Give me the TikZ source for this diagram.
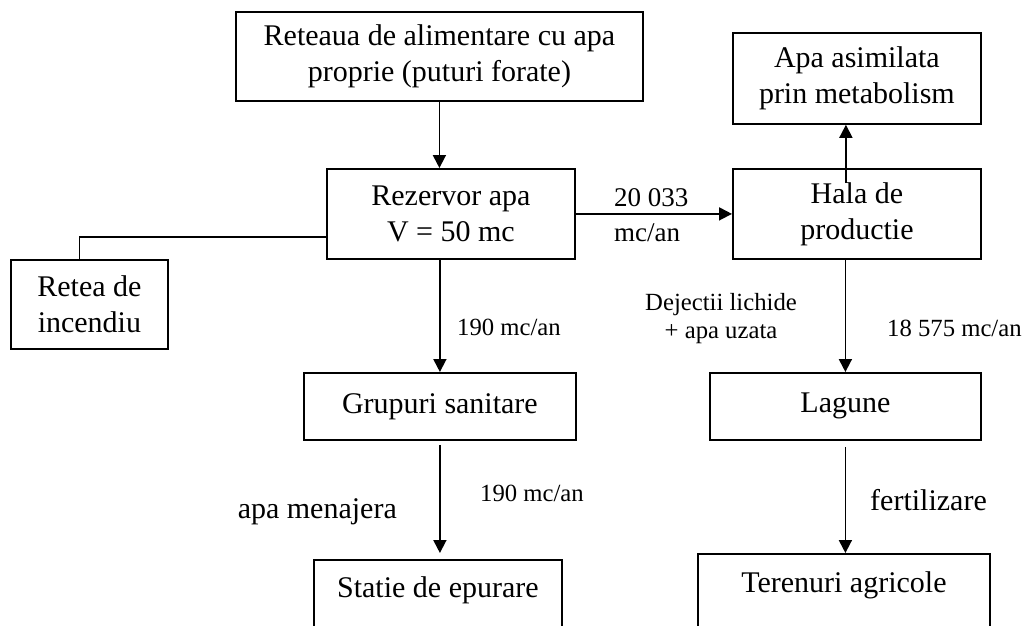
\documentclass[tikz,border=0pt]{standalone}
\usepackage{fontspec}
\setmainfont{Liberation Serif}
\usetikzlibrary{arrows.meta,calc}
\begin{document}
\begin{tikzpicture}[x=1pt,y=-1pt,
  box/.style={draw, line width=1.8pt, inner sep=0pt, align=center, anchor=north west, font=\fontsize{30}{36}\selectfont},
  conn/.style={line width=1.8pt},
  arr/.style={conn, -{Triangle[length=13pt,width=13pt]}},
  lblbig/.style={font=\fontsize{30}{36}\selectfont, inner sep=0pt},
  lblmid/.style={font=\fontsize{27}{35}\selectfont, inner sep=0pt, align=left},
  lblsmall/.style={font=\fontsize{24.7}{28}\selectfont, inner sep=0pt, align=center}]
\useasboundingbox (0,0) rectangle (1024,625);
\clip (0,0) rectangle (1024,625);
\node[box, minimum width=407pt, minimum height=89pt] (src) at (235,11) {Reteaua de alimentare cu apa\\proprie (puturi forate)};
\node[box, minimum width=248pt, minimum height=91pt] (asim) at (732,32) {Apa asimilata\\prin metabolism};
\node[box, minimum width=248pt, minimum height=90pt] (rez) at (326,168) {Rezervor apa\\V = 50 mc};
\node[box, minimum width=248pt, minimum height=90pt] (hala) at (732,168) {Hala de\\productie};
\node[box, minimum width=157pt, minimum height=89pt] (retea) at (10,259) {Retea de\\incendiu};
\node[box, minimum width=272pt, minimum height=67pt] (grup) at (303,372) {Grupuri sanitare};
\node[box, minimum width=271pt, minimum height=67pt] (lag) at (709,372) {Lagune};
\node[box, minimum width=248pt, text height=38pt, text depth=60pt] (statie) at (313,559) {Statie de epurare};
\node[box, minimum width=292pt, text height=39pt, text depth=60pt] (teren) at (697,553) {Terenuri agricole};
% connectors
\draw[arr] (src.south) -- (src.south |- rez.north);
\coordinate (r1) at ($(rez.south west)+(0,-23)$);
\coordinate (r2) at ($(retea.north)+(-10,0)$);
\draw[conn] (r1) -| (r2);
\draw[arr] (rez.east) -- (hala.west);
\coordinate (h1) at ($(hala.north)+(-11,15)$);
\draw[arr] (h1) -- (h1 |- asim.south);
\draw[arr] (grup.north |- rez.south) -- (grup.north);
\draw[arr] (lag.north |- hala.south) -- (lag.north);
\coordinate (l1) at ($(lag.south)+(0,6)$);
\draw[arr] (l1) -- (l1 |- teren.north);
\coordinate (g1) at ($(grup.south)+(0,4)$);
\coordinate (g2) at ($(g1 |- statie.north)+(0,-6)$);
\draw[arr] (g1) -- (g2);
% labels
\node[lblmid, anchor=west] (q1) at (614,215) {20 033\\mc/an};
\node[lblsmall, anchor=west] (q2) at (457,327) {190 mc/an};
\node[lblsmall] (q3) at (721,319) {Dejectii lichide\\+ apa uzata};
\node[lblsmall, anchor=west] (q4) at (887,328) {18 575 mc/an};
\node[lblsmall, anchor=west] (q5) at (480,493) {190 mc/an};
\node[lblbig, anchor=east] (q6) at (397,512) {apa menajera};
\node[lblbig, anchor=west] (q7) at (870,500) {fertilizare};
\end{tikzpicture}
\end{document}
